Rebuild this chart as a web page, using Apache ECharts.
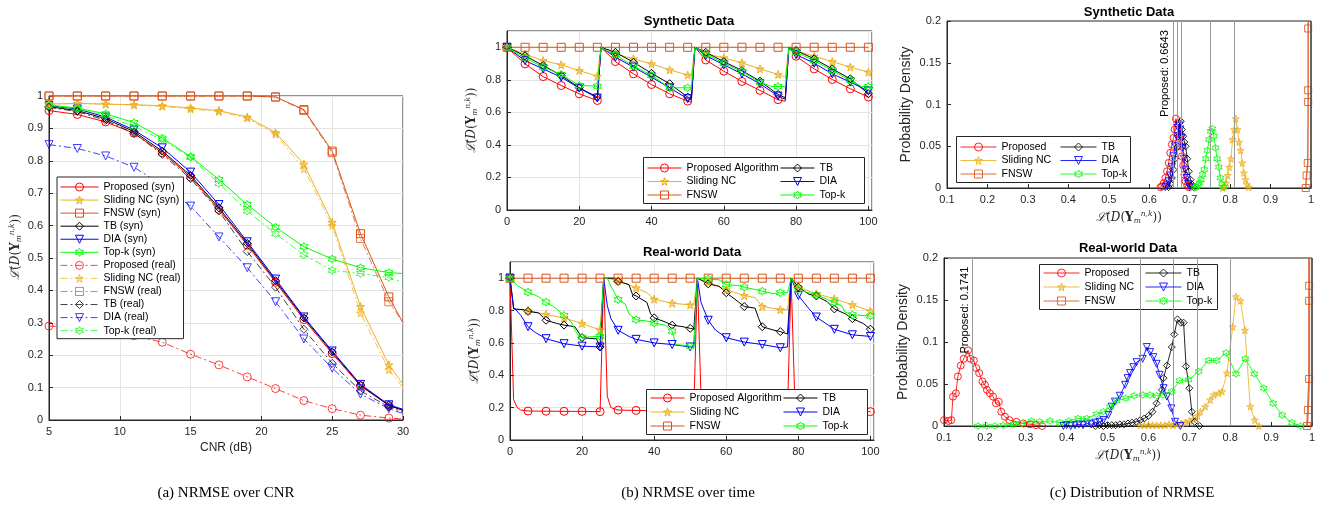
<!DOCTYPE html>
<html>
<head>
<meta charset="utf-8">
<script src="https://cdn.jsdelivr.net/npm/echarts@6/dist/echarts.min.js"></script>
<style>
html,body{margin:0;padding:0;background:#fff;}
#chart{width:1324px;height:509px;}
</style>
</head>
<body>
<div id="chart"></div>
<script>
// ---- (a) NRMSE over CNR ----
var cnrX = [5,7,9,11,13,15,17,19,21,23,25,27,29,30];
var propSyn  = [0.955,0.943,0.92,0.885,0.825,0.75,0.65,0.54,0.425,0.31,0.205,0.105,0.045,0.03];
var slidSyn  = [0.975,0.977,0.975,0.973,0.97,0.963,0.955,0.935,0.887,0.79,0.61,0.35,0.17,0.11];
var fnswSyn  = [1,1,1,1,1,1,1,1,0.997,0.958,0.83,0.575,0.38,0.30];
var tbSyn    = [0.967,0.955,0.93,0.89,0.83,0.755,0.655,0.545,0.43,0.315,0.21,0.108,0.045,0.03];
var diaSyn   = [0.97,0.96,0.935,0.895,0.84,0.765,0.665,0.55,0.435,0.318,0.213,0.11,0.047,0.033];
var topkSyn  = [0.972,0.963,0.945,0.918,0.87,0.813,0.742,0.665,0.595,0.535,0.497,0.47,0.455,0.452];
var propReal = [0.29,0.285,0.275,0.26,0.24,0.203,0.17,0.133,0.097,0.06,0.035,0.015,0.006,0.003];
var slidReal = [0.975,0.977,0.975,0.972,0.968,0.96,0.952,0.932,0.882,0.775,0.60,0.33,0.155,0.10];
var fnswReal = [1,1,1,1,1,1,1,1,0.997,0.955,0.825,0.56,0.365,0.30];
var tbReal   = [0.965,0.952,0.925,0.885,0.82,0.745,0.645,0.52,0.41,0.28,0.175,0.09,0.04,0.025];
var diaReal  = [0.85,0.838,0.815,0.78,0.725,0.66,0.565,0.47,0.365,0.25,0.16,0.08,0.035,0.02];
var topkReal = [0.97,0.96,0.94,0.905,0.865,0.81,0.73,0.645,0.575,0.51,0.462,0.452,0.44,0.425];

// ---- (b) NRMSE over time, synthetic ----
var tSynProp = [[0,1],[5,0.898],[10,0.82],[15,0.765],[20,0.714],[25,0.673],[26,1],[30,0.912],[35,0.837],[40,0.771],[45,0.714],[50,0.669],[51,0.663],[52,1],[55,0.922],[60,0.853],[65,0.79],[70,0.735],[75,0.678],[77,0.668],[78,1],[80,0.945],[85,0.867],[90,0.802],[95,0.745],[100,0.694]];
var tSynSlid = [[0,1],[5,0.957],[10,0.918],[15,0.892],[20,0.857],[25,0.822],[26,1],[30,0.958],[35,0.929],[40,0.898],[45,0.861],[50,0.829],[51,0.822],[52,1],[55,0.959],[60,0.935],[65,0.904],[70,0.867],[75,0.833],[77,0.815],[78,1],[80,0.978],[85,0.945],[90,0.912],[95,0.878],[100,0.847]];
var tSynFnsw = [[0,1],[5,1],[10,1],[15,1],[20,1],[25,1],[30,1],[35,1],[40,1],[45,1],[50,1],[55,1],[60,1],[65,1],[70,1],[75,1],[80,1],[85,1],[90,1],[95,1],[100,1]];
var tSynTB   = [[0,1],[5,0.948],[10,0.888],[15,0.827],[20,0.751],[25,0.694],[26,1],[30,0.969],[35,0.908],[40,0.84],[45,0.776],[50,0.694],[51,0.685],[52,1],[55,0.969],[60,0.912],[65,0.857],[70,0.792],[75,0.71],[77,0.69],[78,1],[80,0.98],[85,0.929],[90,0.867],[95,0.806],[100,0.714]];
var tSynDIA  = [[0,1],[5,0.918],[10,0.867],[15,0.816],[20,0.749],[25,0.688],[26,1],[30,0.939],[35,0.878],[40,0.816],[45,0.751],[50,0.684],[51,0.676],[52,1],[55,0.949],[60,0.892],[65,0.837],[70,0.776],[75,0.70],[77,0.68],[78,1],[80,0.955],[85,0.902],[90,0.837],[95,0.786],[100,0.731]];
var tSynTopk = [[0,1],[5,0.935],[10,0.878],[15,0.833],[20,0.765],[25,0.761],[26,1],[30,0.953],[35,0.884],[40,0.827],[45,0.751],[50,0.751],[51,0.751],[52,1],[55,0.959],[60,0.902],[65,0.851],[70,0.786],[73,0.76],[75,0.759],[77,0.758],[78,1],[80,0.969],[85,0.918],[90,0.857],[95,0.796],[98,0.76],[100,0.759]];

// ---- (b) NRMSE over time, real-world ----
var tRealProp = [[0,1],[1,0.25],[2,0.2],[3,0.185],[5,0.179],[10,0.178],[15,0.177],[20,0.177],[25,0.175],[26,1],[27,0.27],[28,0.2],[30,0.185],[35,0.183],[40,0.18],[45,0.18],[50,0.18],[51,0.18],[52,1],[53,0.27],[54,0.2],[55,0.185],[60,0.18],[65,0.18],[70,0.178],[75,0.178],[77,0.178],[78,1],[79,0.27],[80,0.2],[85,0.18],[90,0.178],[95,0.177],[100,0.175]];
var tRealSlid = [[0,1],[1,0.81],[5,0.80],[10,0.776],[15,0.754],[20,0.72],[25,0.68],[26,1],[27,1],[30,0.985],[33,0.96],[35,0.94],[38,0.91],[40,0.87],[45,0.845],[50,0.835],[51,0.835],[52,1],[55,0.975],[60,0.928],[65,0.893],[68,0.88],[70,0.825],[75,0.805],[77,0.805],[78,1],[80,0.945],[85,0.904],[90,0.873],[95,0.836],[100,0.797]];
var tRealFnsw = tSynFnsw;
var tRealTB   = [[0,1],[1,0.81],[4,0.805],[5,0.795],[8,0.785],[10,0.74],[13,0.72],[15,0.71],[18,0.70],[20,0.632],[24,0.625],[25,0.575],[26,1],[29,1],[30,0.98],[33,0.96],[34,0.90],[35,0.89],[38,0.85],[39,0.78],[40,0.755],[43,0.73],[45,0.71],[48,0.70],[50,0.69],[51,0.685],[52,1],[55,0.965],[58,0.95],[60,0.91],[63,0.86],[65,0.825],[68,0.815],[69,0.75],[70,0.70],[73,0.68],[75,0.67],[77,0.655],[78,1],[80,0.945],[83,0.90],[85,0.89],[88,0.855],[90,0.81],[93,0.78],[95,0.75],[98,0.72],[100,0.685]];
var tRealDIA  = [[0,1],[1,0.82],[3,0.77],[5,0.70],[7,0.665],[10,0.626],[15,0.595],[20,0.58],[25,0.575],[26,1],[27,0.83],[28,0.75],[30,0.678],[33,0.64],[35,0.622],[40,0.60],[45,0.59],[50,0.575],[51,0.575],[52,1],[53,0.85],[55,0.74],[57,0.68],[60,0.632],[65,0.605],[70,0.59],[75,0.57],[77,0.575],[78,1],[80,0.893],[83,0.81],[85,0.76],[90,0.684],[95,0.65],[100,0.64]];
var tRealTopk = [[0,1],[2,0.955],[5,0.914],[8,0.885],[10,0.852],[13,0.81],[15,0.77],[17,0.73],[18,0.68],[19,0.645],[20,0.635],[25,0.64],[26,1],[27,1],[28,0.95],[29,0.91],[30,0.867],[32,0.84],[33,0.78],[35,0.743],[38,0.735],[40,0.723],[43,0.71],[44,0.695],[45,0.673],[46,0.59],[50,0.58],[51,0.58],[52,1],[55,0.995],[58,0.99],[60,0.96],[63,0.955],[65,0.945],[68,0.93],[70,0.92],[73,0.905],[75,0.91],[77,0.91],[78,1],[80,0.928],[85,0.897],[88,0.87],[90,0.85],[92,0.83],[93,0.79],[95,0.774],[100,0.766]];

// ---- (c) distribution, synthetic ----
var dSynProp = [[0.628,0.001],[0.632,0.002],[0.636,0.006],[0.64,0.012],[0.644,0.02],[0.648,0.03],[0.652,0.042],[0.656,0.052],[0.66,0.06],[0.663,0.07],[0.666,0.083],[0.669,0.077],[0.672,0.068],[0.675,0.06],[0.678,0.05],[0.681,0.038],[0.684,0.027],[0.687,0.016],[0.69,0.008],[0.694,0.003],[0.698,0.001]];
var dSynSlid = [[0.782,0],[0.786,0.002],[0.79,0.006],[0.794,0.015],[0.798,0.025],[0.802,0.035],[0.806,0.058],[0.81,0.07],[0.814,0.083],[0.818,0.07],[0.822,0.055],[0.826,0.045],[0.83,0.03],[0.834,0.018],[0.838,0.01],[0.842,0.004],[0.846,0.001]];
var dSynFnsw = [[0.987,0],[0.989,0.015],[0.992,0.03],[0.993,0.103],[0.993,0.117],[0.993,0.191],[0.993,0.2]];
var dSynTB   = [[0.648,0.001],[0.652,0.005],[0.656,0.012],[0.66,0.022],[0.664,0.035],[0.668,0.048],[0.672,0.062],[0.675,0.078],[0.678,0.08],[0.681,0.07],[0.684,0.062],[0.687,0.055],[0.69,0.05],[0.694,0.035],[0.698,0.02],[0.702,0.01],[0.706,0.004],[0.71,0.001]];
var dSynDIA  = [[0.64,0.001],[0.644,0.003],[0.648,0.008],[0.652,0.015],[0.656,0.025],[0.66,0.038],[0.664,0.05],[0.668,0.062],[0.671,0.072],[0.674,0.075],[0.677,0.07],[0.68,0.06],[0.683,0.048],[0.686,0.035],[0.689,0.022],[0.692,0.012],[0.696,0.005],[0.70,0.001]];
var dSynTopk = [[0.712,0],[0.716,0.001],[0.72,0.003],[0.724,0.006],[0.728,0.01],[0.732,0.016],[0.736,0.022],[0.74,0.035],[0.744,0.045],[0.748,0.058],[0.752,0.068],[0.756,0.071],[0.76,0.062],[0.764,0.048],[0.768,0.035],[0.772,0.025],[0.776,0.012],[0.78,0.005],[0.784,0.001]];
var dSynMeans = [0.6643,0.668,0.672,0.676,0.754,0.813];

// ---- (c) distribution, real-world ----
var dRealProp = [[0.10,0.007],[0.111,0.006],[0.118,0.007],[0.122,0.035],[0.129,0.039],[0.134,0.059],[0.141,0.072],[0.148,0.08],[0.159,0.09],[0.165,0.08],[0.173,0.078],[0.179,0.069],[0.186,0.063],[0.194,0.053],[0.20,0.049],[0.205,0.043],[0.212,0.039],[0.22,0.035],[0.227,0.027],[0.234,0.029],[0.24,0.017],[0.249,0.011],[0.26,0.007],[0.277,0.005],[0.294,0.003],[0.31,0.002],[0.325,0.001],[0.34,0]];
var dRealSlid = [[0.58,0.001],[0.59,0.001],[0.60,0.001],[0.61,0.001],[0.62,0.001],[0.63,0.001],[0.64,0.001],[0.65,0.002],[0.66,0.001],[0.67,0.002],[0.68,0.003],[0.69,0.004],[0.70,0.006],[0.71,0.008],[0.72,0.012],[0.727,0.017],[0.739,0.023],[0.751,0.031],[0.76,0.037],[0.772,0.039],[0.78,0.041],[0.792,0.063],[0.806,0.118],[0.814,0.154],[0.825,0.149],[0.836,0.114],[0.849,0.023],[0.86,0.007],[0.87,0]];
var dRealFnsw = [[0.988,0],[0.99,0.019],[0.993,0.056],[0.993,0.149],[0.993,0.167],[0.993,0.2]];
var dRealTB   = [[0.47,0],[0.48,0.001],[0.49,0],[0.50,0.001],[0.51,0.001],[0.52,0.001],[0.53,0.002],[0.54,0.002],[0.55,0.003],[0.56,0.004],[0.57,0.005],[0.58,0.007],[0.59,0.009],[0.60,0.012],[0.61,0.017],[0.62,0.027],[0.633,0.043],[0.637,0.057],[0.645,0.072],[0.657,0.094],[0.663,0.109],[0.671,0.127],[0.679,0.123],[0.686,0.123],[0.692,0.071],[0.70,0.045],[0.706,0.017],[0.713,0.005],[0.725,0]];
var dRealDIA  = [[0.392,0],[0.40,0.001],[0.41,0],[0.42,0.001],[0.43,0.002],[0.44,0.001],[0.45,0.003],[0.46,0.002],[0.47,0.004],[0.48,0.005],[0.49,0.007],[0.502,0.013],[0.51,0.023],[0.518,0.029],[0.53,0.036],[0.543,0.049],[0.549,0.057],[0.555,0.063],[0.563,0.07],[0.571,0.076],[0.586,0.08],[0.596,0.094],[0.604,0.088],[0.612,0.082],[0.62,0.074],[0.627,0.061],[0.637,0.045],[0.645,0.035],[0.656,0.021],[0.665,0.005],[0.678,0]];
var dRealTopk = [[0.183,0],[0.204,0],[0.224,0],[0.245,0.001],[0.27,0.002],[0.29,0.003],[0.314,0.006],[0.334,0.005],[0.359,0.006],[0.383,0.004],[0.405,0.006],[0.428,0.009],[0.449,0.009],[0.473,0.014],[0.49,0.017],[0.506,0.023],[0.522,0.03],[0.545,0.033],[0.565,0.036],[0.586,0.037],[0.604,0.037],[0.62,0.036],[0.635,0.037],[0.657,0.041],[0.676,0.054],[0.698,0.055],[0.723,0.065],[0.747,0.078],[0.767,0.078],[0.79,0.087],[0.814,0.062],[0.837,0.08],[0.859,0.062],[0.882,0.045],[0.905,0.027],[0.927,0.013],[0.951,0.004],[0.972,0]];
var dRealMeans = [0.1741,0.582,0.662,0.717,0.804];

// ---- styles ----
var FONT = 'Liberation Sans';
var COL = {prop:'#ff0000', slid:'#edb120', fnsw:'#d95319', tb:'#000000', dia:'#0000ff', topk:'#00ff00'};
var SYM = {
    prop: 'circle',
    slid: 'path://M0,-10L2.35,-3.24L9.51,-3.09L3.8,1.24L5.88,8.09L0,4L-5.88,8.09L-3.8,1.24L-9.51,-3.09L-2.35,-3.24Z',
    fnsw: 'rect',
    tb: 'path://M0,-10L7,0L0,10L-7,0Z',
    dia: 'path://M-10,-8L10,-8L0,9Z',
    topk: 'path://M0,-10L2.89,-5L8.66,-5L5.77,0L8.66,5L2.89,5L0,10L-2.89,5L-8.66,5L-5.77,0L-8.66,-5L-2.89,-5Z'
};
var DASHDOT = [7,3,2,3];

function mk(name, key, data, gi, opt) {
    opt = opt || {};
    var op = opt.op || 1;
    var fill = key === 'slid' ? 'rgba(237,177,32,0.45)' : 'rgba(0,0,0,0)';
    return {
        name: name, type: 'line', xAxisIndex: gi, yAxisIndex: gi,
        data: data, symbol: SYM[key], symbolSize: opt.size || 8, showAllSymbol: true,
        lineStyle: {color: COL[key], width: opt.w || 1, type: opt.dash || 'solid', opacity: op},
        itemStyle: {color: fill, borderColor: COL[key], borderWidth: 1, opacity: op},
        emphasis: {disabled: true}, animation: false, z: 2
    };
}
// markers only where the reference draws them
function ptsA(vals) {
    return cnrX.map(function (x, i) { var p = [x, vals[i]]; return x === 30 ? {value: p, symbol: 'none'} : p; });
}
function ptsB(pairs) {
    return pairs.map(function (p) { return p[0] % 5 === 0 ? p : {value: p, symbol: 'none'}; });
}
function ptsC(pairs, dropLast) {
    return pairs.map(function (p, i) { return (dropLast && i === pairs.length - 1) ? {value: p, symbol: 'none'} : p; });
}
function means(list, dark) {
    var d = list.map(function (v) { return {xAxis: v}; });
    d.push({xAxis: dark, lineStyle: {color: '#555', width: 1.5}});
    return {silent: true, symbol: ['none', 'none'], label: {show: false},
        lineStyle: {color: '#9a9a9a', width: 1, type: 'solid'}, data: d, animation: false};
}

var RICH = {
    c: {fontFamily: 'DejaVu Serif', fontStyle: 'italic', fontSize: 12, color: '#262626', lineHeight: 15},
    r: {fontFamily: 'DejaVu Serif', fontSize: 12, color: '#262626', lineHeight: 15},
    b: {fontFamily: 'DejaVu Serif', fontWeight: 'bold', fontSize: 12, color: '#262626', lineHeight: 15},
    sb: {fontFamily: 'DejaVu Serif', fontStyle: 'italic', fontSize: 7.5, color: '#262626', lineHeight: 15, verticalAlign: 'bottom'},
    sp: {fontFamily: 'DejaVu Serif', fontStyle: 'italic', fontSize: 7.5, color: '#262626', lineHeight: 15, verticalAlign: 'top'}
};
var LNAME = '{c|\u2112\u0304}{r|(}{c|D}{r|(}{b|Y}{sb|m}{sp|n,k}{r|))}';

function xAx(gi, min, max, interval, grid, extra) {
    return Object.assign({
        gridIndex: gi, type: 'value', min: min, max: max, interval: interval,
        axisLine: {show: true, onZero: false, lineStyle: {color: '#262626'}},
        axisTick: {show: true, inside: true, length: 4, lineStyle: {color: '#262626'}},
        axisLabel: {color: '#262626', fontSize: 11, fontFamily: FONT, margin: 6},
        splitLine: {show: grid, lineStyle: {color: '#e4e4e4'}}
    }, extra || {});
}

var names = ['Proposed', 'Sliding NC', 'FNSW', 'TB', 'DIA', 'Top-k'];
var keys = ['prop', 'slid', 'fnsw', 'tb', 'dia', 'topk'];
var aSyn = [propSyn, slidSyn, fnswSyn, tbSyn, diaSyn, topkSyn];
var aReal = [propReal, slidReal, fnswReal, tbReal, diaReal, topkReal];
var bSyn = [tSynProp, tSynSlid, tSynFnsw, tSynTB, tSynDIA, tSynTopk];
var bReal = [tRealProp, tRealSlid, tRealFnsw, tRealTB, tRealDIA, tRealTopk];
var cSyn = [dSynProp, dSynSlid, dSynFnsw, dSynTB, dSynDIA, dSynTopk];
var cReal = [dRealProp, dRealSlid, dRealFnsw, dRealTB, dRealDIA, dRealTopk];
var bNames = ['Proposed Algorithm', 'Sliding NC', 'FNSW', 'TB', 'DIA', 'Top-k'];

var series = [];
keys.forEach(function (k, i) { series.push(mk(names[i] + ' (syn)', k, ptsA(aSyn[i]), 0)); });
keys.forEach(function (k, i) { series.push(mk(names[i] + ' (real)', k, ptsA(aReal[i]), 0, {dash: DASHDOT, op: 0.75})); });
keys.forEach(function (k, i) { series.push(mk(bNames[i], k, ptsB(bSyn[i]), 1)); });
keys.forEach(function (k, i) { series.push(mk(bNames[i], k, ptsB(bReal[i]), 2)); });
keys.forEach(function (k, i) {
    var s = mk(names[i] + '#c', k, ptsC(cSyn[i], k === 'fnsw'), 3, {size: 7, op: 0.85, w: k === 'fnsw' ? 1.5 : 1});
    if (k === 'fnsw') s.markLine = means(dSynMeans, 0.997);
    series.push(s);
});
keys.forEach(function (k, i) {
    var s = mk(names[i] + '#c', k, ptsC(cReal[i], k === 'fnsw'), 4, {size: 7, op: 0.85, w: k === 'fnsw' ? 2 : 1});
    if (k === 'fnsw') s.markLine = means(dRealMeans, 0.997);
    series.push(s);
});

function leg(data, left, top, gap, extra) {
    return Object.assign({
        data: data, left: left, top: top, orient: 'vertical', itemGap: gap,
        itemWidth: 34, itemHeight: 10, padding: 0, selectedMode: false, z: 6,
        lineStyle: {width: 1},
        itemStyle: {borderWidth: 1},
        formatter: function (n) { return n.replace('#c', ''); },
        textStyle: {fontSize: 10.5, fontFamily: FONT, color: '#000', lineHeight: 12}
    }, extra || {});
}
var aLegend = names.map(function (n) { return n + ' (syn)'; }).concat(names.map(function (n) { return n + ' (real)'; }));
var cL1 = ['Proposed#c', 'Sliding NC#c', 'FNSW#c'], cL2 = ['TB#c', 'DIA#c', 'Top-k#c'];

var option = {
    backgroundColor: '#fff',
    animation: false,
    grid: [
        {left: 49, top: 96, width: 354, height: 324, show: true, borderColor: '#262626', borderWidth: 1},
        {left: 507, top: 31, width: 365, height: 179, show: true, borderColor: '#262626', borderWidth: 1},
        {left: 510, top: 262, width: 364, height: 178, show: true, borderColor: '#262626', borderWidth: 1},
        {left: 947, top: 21, width: 364, height: 167, show: true, borderColor: '#262626', borderWidth: 1},
        {left: 944, top: 258, width: 368, height: 168, show: true, borderColor: '#262626', borderWidth: 1}
    ],
    xAxis: [
        xAx(0, 5, 30, 5, true, {name: 'CNR (dB)', nameLocation: 'middle', nameGap: 20,
            nameTextStyle: {fontSize: 12, fontFamily: FONT, color: '#262626'}}),
        xAx(1, 0, 101, 20, true, {axisLabel: {color: '#262626', fontSize: 11, fontFamily: FONT, margin: 6, showMaxLabel: false}}),
        xAx(2, 0, 101, 20, true, {axisLabel: {color: '#262626', fontSize: 11, fontFamily: FONT, margin: 6, showMaxLabel: false}}),
        xAx(3, 0.1, 1, 0.1, false, {name: LNAME, nameLocation: 'middle', nameGap: 22, nameTextStyle: {rich: RICH}}),
        xAx(4, 0.1, 1, 0.1, false, {name: LNAME, nameLocation: 'middle', nameGap: 22, nameTextStyle: {rich: RICH}})
    ],
    yAxis: [
        xAx(0, 0, 1, 0.1, true, {name: LNAME, nameLocation: 'middle', nameGap: 26, nameTextStyle: {rich: RICH, padding: [0, 0, 0, 22]}}),
        xAx(1, 0, 1.1, 0.2, true, {name: LNAME, nameLocation: 'middle', nameGap: 28, nameTextStyle: {rich: RICH},
            axisLabel: {color: '#262626', fontSize: 11, fontFamily: FONT, margin: 6, showMaxLabel: false}}),
        xAx(2, 0, 1.1, 0.2, true, {name: LNAME, nameLocation: 'middle', nameGap: 28, nameTextStyle: {rich: RICH},
            axisLabel: {color: '#262626', fontSize: 11, fontFamily: FONT, margin: 6, showMaxLabel: false}}),
        xAx(3, 0, 0.2, 0.05, false, {name: 'Probability Density', nameLocation: 'middle', nameGap: 34,
            nameTextStyle: {fontSize: 14, fontFamily: FONT, color: '#262626'}}),
        xAx(4, 0, 0.2, 0.05, false, {name: 'Probability Density', nameLocation: 'middle', nameGap: 34,
            nameTextStyle: {fontSize: 14, fontFamily: FONT, color: '#262626'}})
    ],
    legend: [
        leg(aLegend, 57, 177, 1.06, {itemWidth: 38, padding: [4, 3, 2, 3], backgroundColor: '#fff',
            borderColor: '#262626', borderWidth: 1}),
        leg(bNames.slice(0, 3), 647, 162, 1.5),
        leg(bNames.slice(3), 780, 162, 1.5),
        leg(bNames.slice(0, 3), 650, 392, 2),
        leg(bNames.slice(3), 783, 392, 2),
        leg(cL1, 960, 141, 1.5, {itemWidth: 36}),
        leg(cL2, 1060, 141, 1.5, {itemWidth: 36}),
        leg(cL1, 1043, 267, 2, {itemWidth: 36}),
        leg(cL2, 1145, 267, 2, {itemWidth: 36})
    ],
    series: series
};

var chart = echarts.init(document.getElementById('chart'), null, {renderer: 'canvas'});
chart.setOption(option);

function txt(x, y, s, font, rot) {
    return {type: 'text', x: x, y: y, rotation: rot || 0, z: 7, silent: true,
        style: {text: s, fill: '#000', font: font, align: 'center', verticalAlign: 'middle',
            textAlign: 'center', textVerticalAlign: 'middle'}};
}
function box(x, y, w, h) {
    return {type: 'rect', shape: {x: x, y: y, width: w, height: h}, z: 3, silent: true,
        style: {fill: '#fff', stroke: '#262626', lineWidth: 1}};
}
var pA = chart.convertToPixel({gridIndex: 3}, [dSynMeans[0], 0.137]);
var pB = chart.convertToPixel({gridIndex: 4}, [dRealMeans[0], 0.138]);
var TFONT = 'bold 13px Liberation Sans';
var CFONT = '15px Liberation Serif';
chart.setOption({
    graphic: [
        box(643.5, 157.5, 221, 46),
        box(646.5, 389.5, 221, 45),
        box(956.5, 136.5, 174, 46),
        box(1039.5, 264.5, 178, 45),
        txt(689, 21, 'Synthetic Data', TFONT),
        txt(692, 252, 'Real-world Data', TFONT),
        txt(1129, 12, 'Synthetic Data', TFONT),
        txt(1128, 248, 'Real-world Data', TFONT),
        txt(pA[0] - 10, pA[1], 'Proposed: 0.6643', '11px Liberation Sans', Math.PI / 2),
        txt(pB[0] - 9, pB[1], 'Proposed: 0.1741', '11px Liberation Sans', Math.PI / 2),
        txt(226, 493, '(a) NRMSE over CNR', CFONT),
        txt(688, 493, '(b) NRMSE over time', CFONT),
        txt(1132, 493, '(c) Distribution of NRMSE', CFONT)
    ]
});
</script>
</body>
</html>
